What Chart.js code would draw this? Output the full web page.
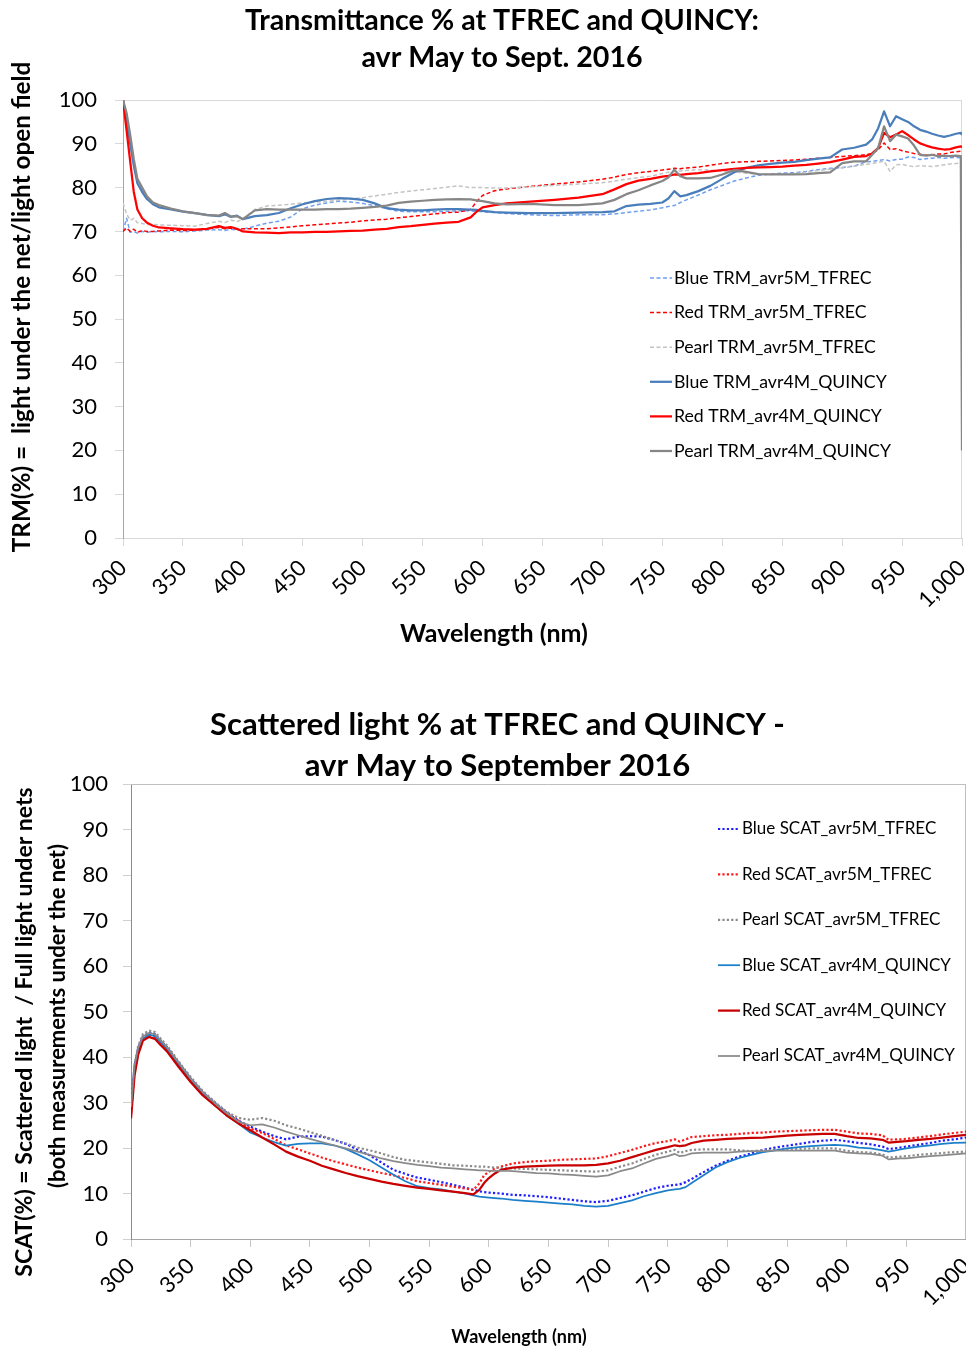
<!DOCTYPE html>
<html>
<head>
<meta charset="utf-8">
<title>Transmittance and scattered light – TFREC and QUINCY 2016</title>
<script src="https://cdn.jsdelivr.net/npm/chart.js@4.4.1/dist/chart.umd.min.js"></script>
<style>
  html, body { margin: 0; padding: 0; background: #ffffff; }
  canvas { display: block; }
</style>
</head>
<body>
<canvas id="trmChart" width="966" height="680"></canvas>
<canvas id="scatChart" width="966" height="669"></canvas>
<script>
// ---------- Axis ticks ----------
const wavelengthTicks = [300, 350, 400, 450, 500, 550, 600, 650, 700, 750, 800, 850, 900, 950, 1000];
const percentTicks = [0, 10, 20, 30, 40, 50, 60, 70, 80, 90, 100];

// ---------- Transmittance (TRM %) ----------
const trmWavelength = [300, 303, 306, 309, 312, 316, 320, 325, 330,
  340, 350, 360, 370, 380, 385, 390, 395, 400,
  410, 420, 430, 440, 450, 460, 470, 480, 490, 500, 510, 520, 530, 540, 550, 560, 570, 580, 590,
  595, 600, 610, 620, 640, 660, 680, 700, 710, 720, 730, 740, 750, 755, 760, 765, 770,
  780, 790, 800, 810, 820, 830, 840, 850, 860, 870, 880, 890, 900, 910, 920,
  925, 930, 935, 940, 945, 950, 955, 960, 965, 970, 975, 980, 985, 990, 995, 999, 1000];

const trmBlueTfrec = [70, 73, 69.8, 70, 69.6, 70, 69.8, 70, 69.9,
  70, 69.9, 70.1, 70.3, 70.4, 70.2, 70.5, 70.3, 70.5,
  71.2, 71.9, 72.3, 73.3, 75.2, 76, 76.5, 76.9, 76.7, 76.4, 75.9, 75.2, 74.6, 74.5, 74.5, 74.5, 74.6, 74.7, 74.7,
  74.6, 74.5, 74.3, 74.1, 73.8, 73.6, 73.8, 73.8, 74, 74.3, 74.6, 74.9, 75.4, 75.7, 75.9, 76.6, 77.2,
  78.3, 79.5, 80.5, 81.5, 82.2, 82.8, 83.1, 83.3, 83.4, 83.7, 84.1, 84.4, 84.6, 84.9, 85.9,
  86, 86.2, 86.4, 86.1, 86.4, 86.5, 87, 86.9, 86.4, 86.6, 86.7, 86.9, 86.7, 86.8, 86.9, 86.8, 86.8];

const trmRedTfrec = [70, 70.8, 70, 70.5, 69.8, 70.2, 70, 70, 70.1,
  70.3, 70.2, 70.3, 70.6, 70.9, 70.6, 70.8, 70.5, 70.6,
  70.6, 70.6, 70.8, 71, 71.3, 71.5, 71.7, 71.9, 72.1, 72.4, 72.6, 72.8, 73.1, 73.4, 73.7, 74, 74.3, 74.4, 75,
  76.8, 78.2, 79.3, 79.7, 80.3, 80.8, 81.3, 81.9, 82.4, 83, 83.4, 83.7, 84, 84.2, 84.4, 84.3, 84.5,
  84.7, 85.1, 85.5, 85.8, 85.9, 86, 86.1, 86.2, 86.3, 86.5, 86.7, 86.9, 87.1, 87.3, 87.5,
  87.8, 88.6, 90.2, 88.7, 88.9, 88.4, 88.1, 87.8, 87.6, 87.4, 87.5, 87.7, 87.7, 88, 88.2, 88.3, 88.3];

const trmPearlTfrec = [76.5, 74, 72.5, 73, 72, 71.8, 71.6, 71.6, 71.5,
  71.4, 71.3, 71.2, 71.8, 72.3, 72, 72.6, 72.2, 72.8,
  75, 75.8, 76, 76.2, 76.5, 76.7, 76.9, 77.1, 77.4, 77.7, 78.1, 78.5, 78.9, 79.2, 79.5, 79.8, 80.1, 80.4, 80,
  80, 80, 79.9, 79.9, 80.2, 80.5, 80.8, 81.1, 81.5, 81.9, 82.3, 82.6, 83.2, 83.5, 83.7, 83.8, 83.9,
  84.1, 84, 83.8, 83.6, 83.3, 83.1, 83, 83.1, 83.2, 83.5, 83.9, 84.2, 84.5, 84.9, 85.3,
  85.5, 85.8, 86, 83.7, 85.2, 85.3, 85, 84.8, 85, 84.9, 84.8, 85, 85.2, 85.4, 85.5, 85.6, 85.5];

const trmBlueQuincy = [100, 95, 90, 85, 81, 79, 77.4, 76.2, 75.5,
  75, 74.5, 74.2, 73.8, 73.5, 73.9, 73.3, 73.6, 72.8,
  73.5, 73.7, 74.2, 75.3, 76.2, 76.9, 77.4, 77.6, 77.5, 77.2, 76.4, 75.3, 75, 74.8, 74.8, 75, 75.1, 75.1, 75,
  74.9, 74.7, 74.4, 74.3, 74.2, 74.2, 74.3, 74.4, 74.6, 75.8, 76.1, 76.3, 76.6, 77.5, 79.2, 78, 78.3,
  79.2, 80.4, 82, 83.5, 84.5, 85.1, 85.4, 85.7, 85.9, 86.3, 86.6, 86.9, 88.7, 89.1, 89.8,
  91, 93.5, 97.4, 94, 96.3, 95.6, 95, 94, 93.2, 92.8, 92.3, 91.9, 91.6, 91.9, 92.3, 92.5, 92];

const trmRedQuincy = [100, 93, 86, 79, 75, 73, 72, 71.3, 70.9,
  70.7, 70.5, 70.4, 70.6, 71.2, 70.8, 71, 70.6, 70,
  69.8, 69.7, 69.6, 69.8, 69.8, 69.9, 69.9, 70, 70.1, 70.2, 70.4, 70.6, 71, 71.2, 71.5, 71.8, 72, 72.2, 73.2,
  74.5, 75.5, 76, 76.4, 76.8, 77.2, 77.7, 78.5, 79.6, 80.8, 81.6, 82, 82.5, 82.7, 83, 82.9, 83.1,
  83.3, 83.7, 84, 84.3, 84.5, 84.6, 84.7, 84.8, 85, 85.2, 85.5, 85.8, 86.4, 87, 87.2,
  87.8, 89, 92.5, 91.5, 92.1, 92.9, 92, 91, 90.1, 89.6, 89.2, 88.9, 88.7, 88.8, 89.2, 89.4, 89.2];

const trmPearlQuincy = [100, 97, 92, 86.5, 82, 80, 78, 76.6, 76,
  75.2, 74.6, 74.2, 73.7, 73.6, 74.2, 73.4, 73.5, 72.8,
  74.8, 75.1, 75, 75, 75, 75, 75.1, 75.1, 75.2, 75.4, 75.6, 75.9, 76.5, 76.8, 77, 77.2, 77.3, 77.4, 77.3,
  77.1, 76.9, 76.4, 76.2, 76.3, 76, 76, 76.4, 77.2, 78.5, 79.4, 80.5, 81.5, 82.3, 84.1, 82.6, 82.1,
  82.1, 82.2, 83, 84, 83.6, 83.1, 83, 83, 83, 83.1, 83.3, 83.5, 85.6, 86, 86,
  87.5, 89, 94, 90.6, 92.1, 91.7, 91.2, 89.6, 87.5, 87.3, 87.5, 87.2, 87.3, 87.2, 87.3, 87.2, 20];

// ---------- Scattered light (SCAT %) ----------
const scatWavelength = [300, 303, 306, 310, 315, 320, 325, 330,
  340, 350, 360, 370, 380, 390, 400, 410, 420, 430, 440, 450, 460, 470, 480, 490, 500,
  510, 520, 530, 540, 550, 560, 570, 580,
  587, 592, 596, 600, 605, 610,
  620, 630, 640, 650, 660, 670, 680, 690, 700, 710, 720, 730, 740, 750,
  756, 760, 765, 770,
  780, 790, 800, 810, 820, 830, 840, 850, 860, 870, 880, 890, 900, 910, 920, 930,
  935, 940, 945, 950,
  960, 970, 980, 990, 1000];

const scatBlueTfrec = [29, 38, 42, 44.5, 45.3, 45, 43.6, 42.2,
  38.7, 35.3, 32.3, 30, 27.8, 26, 24.7, 23.6, 22.6, 21.9, 22.5, 22.6, 22.5, 21.8, 20.9, 19.6, 18.4,
  16.8, 15.2, 14.3, 13.5, 13, 12.5, 11.9, 11.3,
  10.8, 10.5, 10.3, 10.2, 10.1, 10,
  9.7, 9.6, 9.4, 9.2, 8.9, 8.6, 8.3, 8.1, 8.4, 9, 9.6, 10.4, 11.2, 11.7,
  11.9, 12, 12.5, 13.2,
  14.7, 16.1, 17.2, 18.1, 18.8, 19.6, 20.1, 20.5, 20.9, 21.3, 21.6, 21.8, 21.5, 21.1, 20.8, 20.3,
  19.8, 19.9, 20.1, 20.3,
  20.7, 21.1, 21.6, 21.9, 22.3];

const scatRedTfrec = [27.5, 37, 41, 44, 44.8, 44.4, 43, 41.7,
  38.3, 35, 32, 29.7, 27.6, 26, 24.3, 23.3, 22, 20.6, 19.7, 18.8, 17.9, 17.1, 16.4, 15.7, 15.1,
  14.5, 14, 13.4, 12.7, 12.3, 11.9, 11.5, 11.1,
  10.8, 12.2, 14, 14.8, 15.5, 15.9,
  16.6, 16.9, 17.1, 17.2, 17.4, 17.5, 17.6, 17.7, 18.2, 18.9, 19.6, 20.4, 21.1, 21.5,
  21.9, 21.4, 21.9, 22.4,
  22.6, 22.8, 22.9, 23.1, 23.3, 23.4, 23.6, 23.7, 23.8, 23.9, 24, 24, 23.6, 23.2, 23.1, 22.8,
  21.8, 21.9, 21.9, 22,
  22.3, 22.6, 23, 23.3, 23.6];

const scatPearlTfrec = [29.5, 38.5, 42.5, 45, 45.8, 45.5, 44, 42.6,
  39, 35.6, 32.6, 30.2, 28, 26.6, 26.2, 26.6, 26, 25, 24.3, 23.5, 22.7, 21.8, 21, 20.1, 19.5,
  18.8, 18, 17.4, 17.1, 16.8, 16.5, 16.2, 16.1,
  16, 15.9, 15.9, 15.8, 15.7, 15.6,
  15.5, 15.4, 15.3, 15.2, 15.1, 15, 14.9, 14.8, 15.1, 15.9, 16.6, 17.6, 18.5, 19.2,
  19.6, 18.9, 19.3, 19.6,
  19.7, 19.7, 19.7, 19.5, 19.3, 19.5, 19.6, 19.7, 19.8, 19.9, 19.9, 19.9, 19.4, 19.1, 19, 18.6,
  17.9, 18, 18.1, 18.2,
  18.5, 18.7, 18.9, 19.1, 19.2];

const scatBlueQuincy = [28.5, 37.5, 41.5, 44, 44.9, 44.6, 43.2, 41.8,
  38.3, 35, 32, 29.5, 27.2, 25.4, 23.4, 22.3, 21.3, 20.5, 20.9, 21, 21, 20.6, 19.8, 18.6, 17.3,
  15.7, 14.1, 12.7, 11.6, 11.2, 10.9, 10.4, 10,
  9.6, 9.3, 9.2, 9.1, 9, 8.9,
  8.6, 8.4, 8.2, 8, 7.8, 7.6, 7.3, 7.1, 7.3, 7.9, 8.5, 9.4, 10.1, 10.7,
  10.9, 11, 11.4, 12.3,
  14, 15.7, 16.9, 17.8, 18.5, 19.1, 19.5, 19.9, 20.2, 20.4, 20.6, 20.7, 20.5, 20.1, 19.9, 19.5,
  19.2, 19.4, 19.7, 19.9,
  20.3, 20.6, 20.9, 21.1, 21.2];

const scatRedQuincy = [26.5, 36, 40.5, 43.6, 44.4, 44, 42.6, 41.3,
  37.8, 34.5, 31.6, 29.4, 27.2, 25.4, 23.9, 22.3, 20.8, 19.2, 18.1, 17.2, 16.1, 15.3, 14.5, 13.8, 13.2,
  12.6, 12.1, 11.7, 11.3, 11, 10.7, 10.4, 10.1,
  9.8, 10.8, 12.3, 13.4, 14.4, 15.2,
  15.7, 15.9, 16, 16.1, 16.2, 16.2, 16.2, 16.3, 16.6, 17.2, 18, 18.8, 19.6, 20.2,
  20.6, 20.4, 20.6, 21.1,
  21.6, 21.8, 22, 22.1, 22.2, 22.3, 22.5, 22.7, 22.9, 23, 23.1, 23.1, 22.6, 22.2, 22.1, 21.8,
  21.2, 21.3, 21.4, 21.5,
  21.8, 22, 22.3, 22.6, 22.9];

const scatPearlQuincy = [29, 38, 42, 44.5, 45.3, 45, 43.6, 42.2,
  38.7, 35.3, 32.3, 29.9, 27.7, 25.8, 25, 25.2, 24.5, 23.6, 22.8, 22, 21.3, 20.6, 19.9, 19.2, 18.5,
  17.7, 17.1, 16.7, 16.3, 16, 15.7, 15.5, 15.3,
  15.2, 15.1, 15.1, 15, 15, 15,
  14.9, 14.7, 14.5, 14.4, 14.2, 14.1, 13.9, 13.7, 14, 14.9, 15.5, 16.6, 17.6, 18.2,
  18.7, 18.2, 18.4, 18.8,
  19, 19, 19, 19.2, 19.3, 19.3, 19.4, 19.4, 19.4, 19.4, 19.4, 19.4, 19, 18.8, 18.7, 18.3,
  17.5, 17.6, 17.7, 17.7,
  18, 18.2, 18.4, 18.6, 18.8];

// ---------- helpers ----------
const FONT = 'Lato, "Open Sans", sans-serif';

function points(xs, ys) {
  return ys.map((y, i) => ({ x: xs[i], y: y }));
}

function line(label, xs, ys, style, order) {
  return Object.assign({
    label: label,
    data: points(xs, ys),
    pointRadius: 0,
    pointHoverRadius: 0,
    tension: 0,
    fill: false,
    borderCapStyle: 'butt',
    borderJoinStyle: 'round',
    order: order
  }, style);
}

function fixedTicks(values) {
  return function (scale) { scale.ticks = values.map(v => ({ value: v })); };
}

// light frame around the plot area (top and right edges)
const plotFrame = {
  id: 'plotFrame',
  beforeDatasetsDraw(chart, args, opts) {
    const { ctx, chartArea: a } = chart;
    ctx.save();
    ctx.strokeStyle = opts.color;
    ctx.lineWidth = 1;
    ctx.beginPath();
    ctx.moveTo(a.left, Math.round(a.top) + 0.5);
    ctx.lineTo(a.right, Math.round(a.top) + 0.5);
    ctx.moveTo(Math.round(a.right) - 0.5, a.top);
    ctx.lineTo(Math.round(a.right) - 0.5, a.bottom);
    ctx.stroke();
    ctx.restore();
  }
};

// axis captions placed freely on the canvas
const captions = {
  id: 'captions',
  afterDraw(chart, args, opts) {
    const ctx = chart.ctx;
    (opts.items || []).forEach(it => {
      ctx.save();
      ctx.translate(it.x, it.y);
      if (it.rotate) ctx.rotate(it.rotate);
      ctx.font = it.font;
      ctx.fillStyle = opts.color;
      ctx.textAlign = 'center';
      ctx.textBaseline = 'middle';
      ctx.fillText(it.text, 0, 0);
      ctx.restore();
    });
  }
};

// legend drawn inside the plot area, one row per dataset
const insideLegend = {
  id: 'insideLegend',
  afterDatasetsDraw(chart, args, opts) {
    const ctx = chart.ctx;
    chart.data.datasets.forEach((ds, i) => {
      const y = opts.top + i * opts.rowGap;
      ctx.save();
      ctx.strokeStyle = ds.borderColor;
      ctx.lineWidth = ds.borderWidth;
      ctx.setLineDash(ds.borderDash || []);
      ctx.beginPath();
      ctx.moveTo(opts.left, y);
      ctx.lineTo(opts.left + opts.sample, y);
      ctx.stroke();
      ctx.setLineDash([]);
      ctx.font = opts.font;
      ctx.fillStyle = opts.color;
      ctx.textAlign = 'left';
      ctx.textBaseline = 'middle';
      ctx.fillText(ds.label, opts.left + opts.sample + opts.gap, y);
      ctx.restore();
    });
  }
};

Chart.defaults.font.family = FONT;
Chart.defaults.color = '#000000';

// ---------- Chart 1: transmittance ----------
const dashed = [4, 2.5];
new Chart(document.getElementById('trmChart'), {
  type: 'line',
  data: {
    datasets: [
      line('Blue TRM_avr5M_TFREC', trmWavelength, trmBlueTfrec, { borderColor: '#6f9ff0', borderWidth: 1.5, borderDash: dashed }, 6),
      line('Red TRM_avr5M_TFREC', trmWavelength, trmRedTfrec, { borderColor: '#ff0000', borderWidth: 1.5, borderDash: dashed }, 5),
      line('Pearl TRM_avr5M_TFREC', trmWavelength, trmPearlTfrec, { borderColor: '#c4c4c4', borderWidth: 1.5, borderDash: dashed }, 4),
      line('Blue TRM_avr4M_QUINCY', trmWavelength, trmBlueQuincy, { borderColor: '#4a7ebb', borderWidth: 2.25 }, 3),
      line('Red TRM_avr4M_QUINCY', trmWavelength, trmRedQuincy, { borderColor: '#ff0000', borderWidth: 2.25 }, 2),
      line('Pearl TRM_avr4M_QUINCY', trmWavelength, trmPearlQuincy, { borderColor: '#868686', borderWidth: 2.25 }, 1)
    ]
  },
  options: {
    responsive: false,
    animation: false,
    events: [],
    layout: { padding: { left: 42, right: 4, top: 0, bottom: 0 } },
    scales: {
      x: {
        type: 'linear',
        min: 300,
        max: 1000,
        afterBuildTicks: fixedTicks(wavelengthTicks),
        afterFit(scale) { scale.height = 142; scale.paddingLeft = 0; scale.paddingRight = 0; },
        ticks: {
          autoSkip: false,
          minRotation: 45,
          maxRotation: 45,
          padding: 9,
          font: { size: 22 },
          color: '#000000',
          callback: v => v.toLocaleString('en-US')
        },
        grid: { drawOnChartArea: false, drawTicks: true, tickLength: 8, color: '#d9d9d9' },
        border: { display: true, color: '#d9d9d9', width: 1 }
      },
      y: {
        min: 0,
        max: 100,
        afterBuildTicks: fixedTicks(percentTicks),
        afterFit(scale) { scale.width = 81; },
        ticks: { padding: 18, font: { size: 22 }, color: '#000000' },
        grid: { drawOnChartArea: false, drawTicks: true, tickLength: 8, color: '#d9d9d9' },
        border: { display: true, color: '#a6a6a6', width: 1 }
      }
    },
    plugins: {
      legend: { display: false },
      tooltip: { enabled: false },
      title: {
        display: true,
        text: ['Transmittance % at TFREC and QUINCY:', 'avr May to Sept. 2016'],
        font: { size: 28.6, weight: 'bold', lineHeight: 1.294 },
        color: '#000000',
        padding: { top: 2, bottom: 24 }
      },
      plotFrame: { color: '#d9d9d9' },
      captions: {
        color: '#000000',
        items: [
          { text: 'TRM(%) =  light under the net/light open field', x: 22, y: 307, rotate: -Math.PI / 2, font: 'bold 24.3px ' + FONT },
          { text: 'Wavelength (nm)', x: 494, y: 634, font: 'bold 25px ' + FONT }
        ]
      },
      insideLegend: { left: 650, top: 278, rowGap: 34.6, sample: 22, gap: 2, font: '17.7px ' + FONT, color: '#000000' }
    }
  },
  plugins: [plotFrame, captions, insideLegend]
});

// ---------- Chart 2: scattered light ----------
const dotted = [2.2, 2.2];
new Chart(document.getElementById('scatChart'), {
  type: 'line',
  data: {
    datasets: [
      line('Blue SCAT_avr5M_TFREC', scatWavelength, scatBlueTfrec, { borderColor: '#1f1fff', borderWidth: 2.2, borderDash: dotted }, 6),
      line('Red SCAT_avr5M_TFREC', scatWavelength, scatRedTfrec, { borderColor: '#ff1a1a', borderWidth: 2.2, borderDash: dotted }, 5),
      line('Pearl SCAT_avr5M_TFREC', scatWavelength, scatPearlTfrec, { borderColor: '#8c8c8c', borderWidth: 2.2, borderDash: dotted }, 4),
      line('Blue SCAT_avr4M_QUINCY', scatWavelength, scatBlueQuincy, { borderColor: '#1c7fc9', borderWidth: 1.75 }, 3),
      line('Red SCAT_avr4M_QUINCY', scatWavelength, scatRedQuincy, { borderColor: '#c80000', borderWidth: 2.25 }, 2),
      line('Pearl SCAT_avr4M_QUINCY', scatWavelength, scatPearlQuincy, { borderColor: '#8a8a8a', borderWidth: 1.75 }, 1)
    ]
  },
  options: {
    responsive: false,
    animation: false,
    events: [],
    layout: { padding: { left: 29, right: 0, top: 0, bottom: 0 } },
    scales: {
      x: {
        type: 'linear',
        min: 300,
        max: 1000,
        afterBuildTicks: fixedTicks(wavelengthTicks),
        afterFit(scale) { scale.height = 110; scale.paddingLeft = 0; scale.paddingRight = 0; },
        ticks: {
          autoSkip: false,
          minRotation: 45,
          maxRotation: 45,
          padding: 6,
          font: { size: 22 },
          color: '#000000',
          callback: v => v.toLocaleString('en-US')
        },
        grid: { drawOnChartArea: false, drawTicks: true, tickLength: 8, color: '#c8c8c8' },
        border: { display: true, color: '#a6a6a6', width: 1 }
      },
      y: {
        min: 0,
        max: 100,
        afterBuildTicks: fixedTicks(percentTicks),
        afterFit(scale) { scale.width = 102; },
        ticks: { padding: 15, font: { size: 22 }, color: '#000000' },
        grid: { drawOnChartArea: false, drawTicks: true, tickLength: 8, color: '#d0d0d0' },
        border: { display: true, color: '#8c8c8c', width: 1 }
      }
    },
    plugins: {
      legend: { display: false },
      tooltip: { enabled: false },
      title: {
        display: true,
        text: ['Scattered light % at TFREC and QUINCY -', 'avr May to September 2016'],
        font: { size: 31, weight: 'bold', lineHeight: 1.3226 },
        color: '#000000',
        padding: { top: 24, bottom: -2 }
      },
      plotFrame: { color: '#bfbfbf' },
      captions: {
        color: '#000000',
        items: [
          { text: 'SCAT(%) = Scattered light  / Full light under nets', x: 25, y: 352, rotate: -Math.PI / 2, font: 'bold 23px ' + FONT },
          { text: '(both measurements under the net)', x: 58, y: 336, rotate: -Math.PI / 2, font: 'bold 22px ' + FONT },
          { text: 'Wavelength (nm)', x: 519, y: 657, font: 'bold 18px ' + FONT }
        ]
      },
      insideLegend: { left: 718, top: 149, rowGap: 45.4, sample: 22, gap: 2, font: '17px ' + FONT, color: '#000000' }
    }
  },
  plugins: [plotFrame, captions, insideLegend]
});
</script>
</body>
</html>
